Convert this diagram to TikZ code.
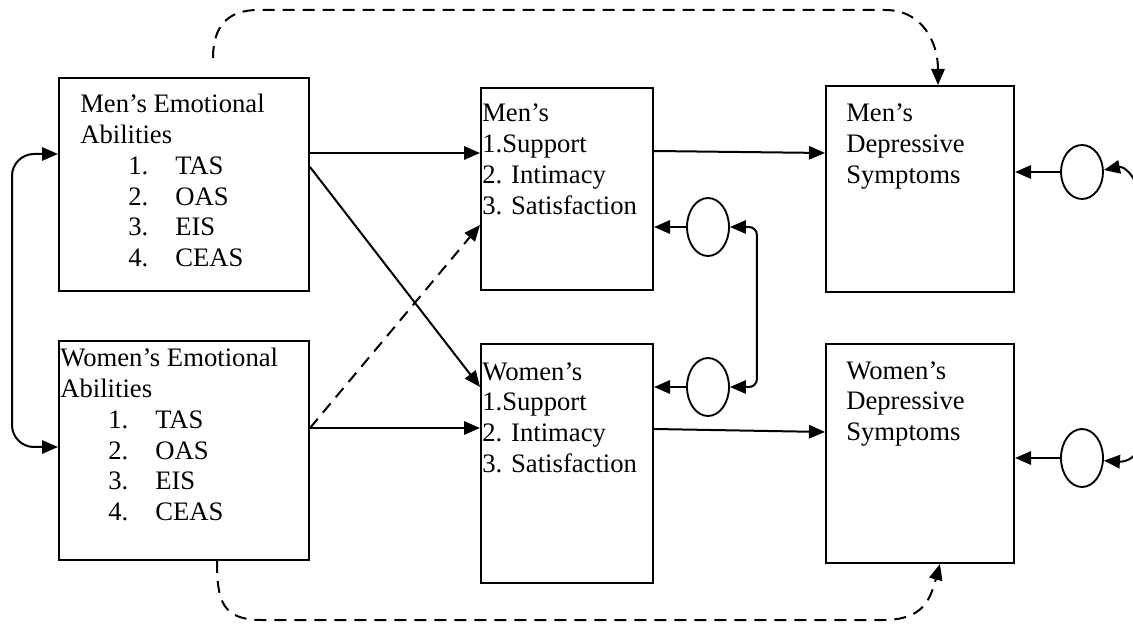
\documentclass[tikz,border=0pt]{standalone}
\usepackage{fontspec}
\setmainfont{Liberation Serif}
\usetikzlibrary{arrows.meta,shapes.geometric,calc}
\newlength\px
\setlength\px{0.75pt}
\begin{document}
\begin{tikzpicture}[x=0.75pt,y=-0.75pt,
  box/.style={draw,line width=1.5pt,anchor=north west,inner sep=0pt},
  err/.style={draw,line width=1.4pt,ellipse,inner sep=0pt,minimum width=42*0.75pt,minimum height=58*0.75pt},
  txt/.style={anchor=north west,inner sep=0pt,align=left,font=\fontsize{20}{23.1}\selectfont},
  arr/.style={line width=1.5pt,-{Triangle[length=12pt,width=10pt]}},
  dbl/.style={line width=1.5pt,{Triangle[length=12pt,width=10pt]}-{Triangle[length=12pt,width=10pt]}},
  dsh/.style={arr,dash pattern=on 9pt off 6pt}]
\useasboundingbox (0,0) rectangle (1133,627);
\clip (0,0) rectangle (1133,627);

% boxes
\node[box,minimum width=250*0.75pt,minimum height=213*0.75pt] (mea) at (58,77) {};
\node[box,minimum width=250*0.75pt,minimum height=219*0.75pt] (wea) at (58,340) {};
\node[box,minimum width=172*0.75pt,minimum height=202*0.75pt] (mm) at (480,87) {};
\node[box,minimum width=172*0.75pt,minimum height=239*0.75pt] (wm) at (480,343) {};
\node[box,minimum width=188*0.75pt,minimum height=206*0.75pt] (md) at (825,85) {};
\node[box,minimum width=188*0.75pt,minimum height=219*0.75pt] (wd) at (825,343) {};

% box texts
\node[txt] (meat) at (80,94) {Men’s Emotional\\Abilities\\
  \hspace*{48\px}\makebox[47\px][l]{1.}TAS\\
  \hspace*{48\px}\makebox[47\px][l]{2.}OAS\\
  \hspace*{48\px}\makebox[47\px][l]{3.}EIS\\
  \hspace*{48\px}\makebox[47\px][l]{4.}CEAS};
\node[txt] (weat) at (60,348) {Women’s Emotional\\Abilities\\
  \hspace*{48\px}\makebox[47\px][l]{1.}TAS\\
  \hspace*{48\px}\makebox[47\px][l]{2.}OAS\\
  \hspace*{48\px}\makebox[47\px][l]{3.}EIS\\
  \hspace*{48\px}\makebox[47\px][l]{4.}CEAS};
\node[txt] (mmt) at (482,104) {Men’s\\1.Support\\2. Intimacy\\3. Satisfaction};
\node[txt] (wmt) at (482,362) {Women’s\\1.Support\\2. Intimacy\\3. Satisfaction};
\node[txt] (mdt) at (846,104) {Men’s\\Depressive\\Symptoms};
\node[txt] (wdt) at (846,361) {Women’s\\Depressive\\Symptoms};

% residual terms
\node[err] (em) at (708,227) {};
\node[err] (ew) at (708,387) {};
\node[err,minimum height=54*0.75pt] (ed1) at (1082,172) {};
\node[err] (ed2) at (1082,458) {};

% paths between the blocks
\draw[arr] ($(mea.north east)+(0,76)$) -- ($(mm.north west)+(0,66)$);
\draw[arr] ($(mea.north east)+(0,90)$) -- ($(wm.north west)+(0,44)$);
\draw[dsh] ($(wea.north east)+(0,88)$) -- ($(mm.north west)+(0,138)$);
\draw[arr] ($(wea.north east)+(0,88)$) -- ($(wm.north west)+(0,85)$);
\draw[arr] ($(mm.north east)+(0,64)$) -- ($(md.north west)+(0,68)$);
\draw[arr] ($(wm.north east)+(0,86)$) -- ($(wd.north west)+(0,89)$);

% residuals into their blocks
\draw[arr] (em.west) -- (em.west -| mm.east);
\draw[arr] (ew.west) -- (ew.west -| wm.east);
\draw[arr] (ed1.west) -- (ed1.west -| md.east);
\draw[arr] (ed2.west) -- (ed2.west -| wd.east);

% correlated residuals
\draw[dbl,rounded corners=8*0.75pt] (em.east) -- ++(27,0) |- (ew.east);

% correlated predictors
\coordinate (lb) at (12,300);
\draw[dbl,rounded corners=22*0.75pt] ($(mea.north west)+(0,77)$) -| (lb) |- ($(wea.north west)+(0,107)$);

% direct paths to depressive symptoms
\coordinate (ts) at (213,58);
\coordinate (t1) at (258,10);
\coordinate (t2) at (885,10);
\draw[dsh] (ts) .. controls +(0,-32) and +(-30,0) .. (t1) -- (t2)
  .. controls +(38,0) and +(0,-42) .. ($(md.north west)+(113,0)$);
\coordinate (b1) at (262,620);
\coordinate (b2) at (883,620);
\draw[dsh] ($(wea.south west)+(159,0)$) .. controls +(0,40) and +(-40,0) .. (b1) -- (b2)
  .. controls +(40,0) and +(-10,36) .. ($(wd.south west)+(115,0)$);

% variance loops leaving the frame
\coordinate (r1) at (1142,205);
\coordinate (r2) at (1142,440);
\draw[arr] (r1) .. controls (1138,176) and (1124,166) .. ([yshift=1.5pt]ed1.east);
\draw[arr] (r2) .. controls (1138,458) and (1126,462) .. ([yshift=-2pt]ed2.east);
\end{tikzpicture}
\end{document}
